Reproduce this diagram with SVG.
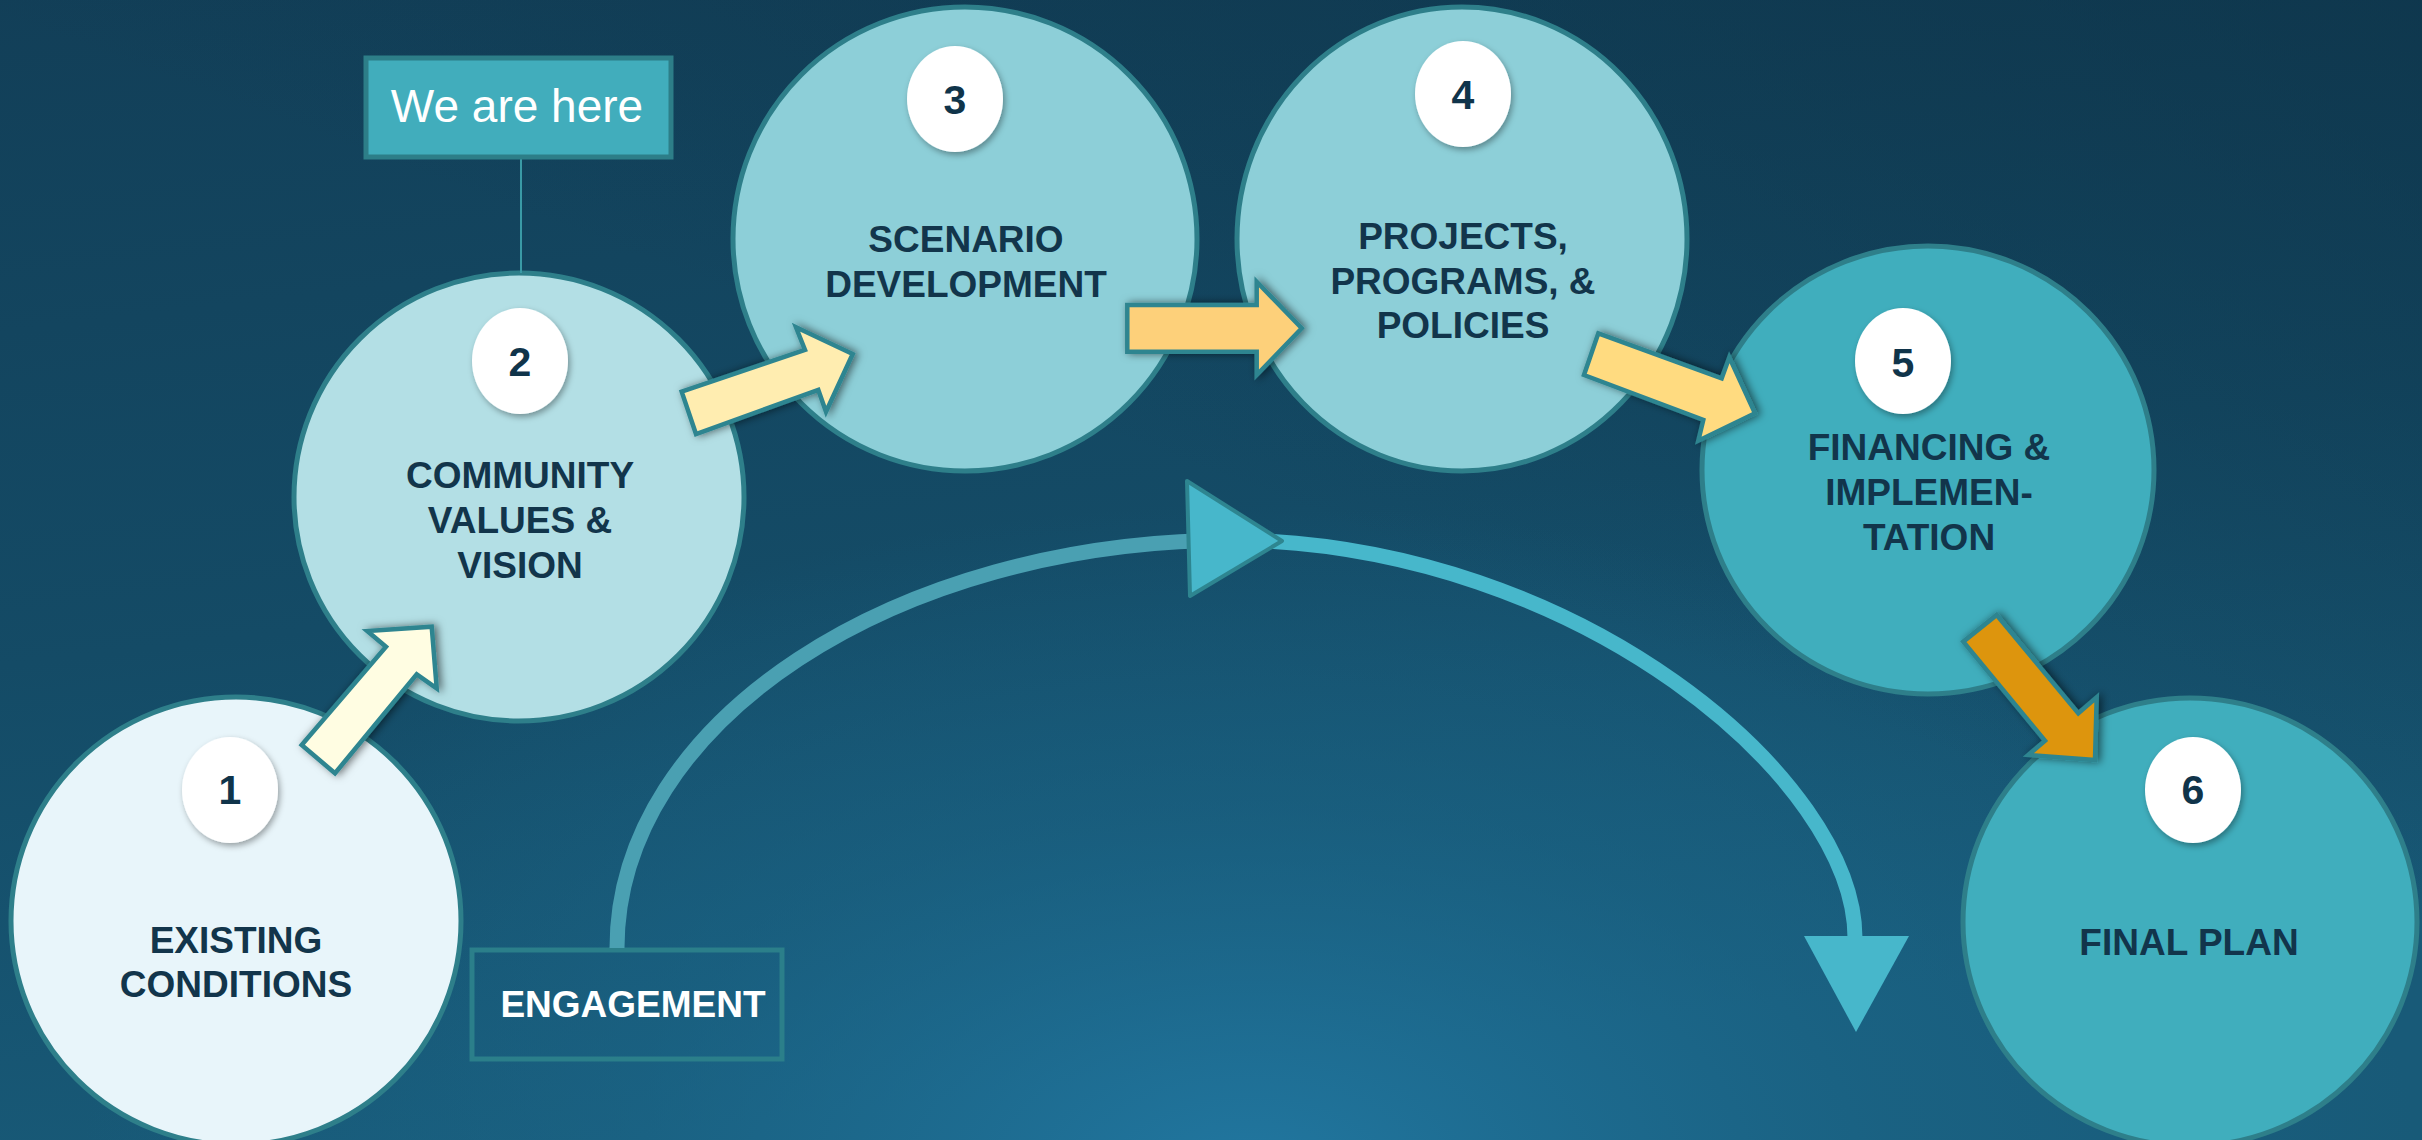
<svg xmlns="http://www.w3.org/2000/svg" width="2422" height="1140" viewBox="0 0 2422 1140">
  <defs>
    <linearGradient id="bg" x1="0" y1="0" x2="0.25" y2="1">
      <stop offset="0" stop-color="#123f58"/>
      <stop offset="0.55" stop-color="#144b66"/>
      <stop offset="1" stop-color="#185a78"/>
    </linearGradient>
    <radialGradient id="glow" cx="1250" cy="1180" r="900" gradientUnits="userSpaceOnUse" gradientTransform="translate(1250 1180) scale(1.3 0.75) translate(-1250 -1180)">
      <stop offset="0" stop-color="#2279a3" stop-opacity="0.95"/>
      <stop offset="0.55" stop-color="#1c6a8e" stop-opacity="0.45"/>
      <stop offset="1" stop-color="#1c6a8e" stop-opacity="0"/>
    </radialGradient>
    <linearGradient id="dark" x1="1" y1="0" x2="0.6" y2="0.5">
      <stop offset="0" stop-color="#0c2f43" stop-opacity="0.6"/>
      <stop offset="1" stop-color="#0c2f43" stop-opacity="0"/>
    </linearGradient>
    <filter id="ashadow" x="-20%" y="-20%" width="140%" height="140%">
      <feDropShadow dx="3" dy="0" stdDeviation="4" flood-color="#000" flood-opacity="0.55"/>
    </filter>
    <filter id="bshadow" x="-30%" y="-30%" width="160%" height="160%">
      <feDropShadow dx="2" dy="3" stdDeviation="3" flood-color="#000" flood-opacity="0.35"/>
    </filter>
    <style>
      .circ { stroke: #2e7f8a; stroke-width: 5; }
      .badge { fill: #ffffff; filter: url(#bshadow); }
      .num { font-family: "Liberation Sans", Arial, sans-serif; font-weight: bold; font-size: 41px; fill: #10344a; text-anchor: middle; }
      .lbl { font-family: "Liberation Sans", Arial, sans-serif; font-weight: bold; font-size: 37px; fill: #12354b; text-anchor: middle; }
      .arr { stroke: #2e8590; stroke-width: 4.5; stroke-linejoin: miter; filter: url(#ashadow); }
    </style>
  </defs>

  <rect x="0" y="0" width="2422" height="1140" fill="url(#bg)"/>
  <rect x="0" y="0" width="2422" height="1140" fill="url(#glow)"/>
  <rect x="0" y="0" width="2422" height="1140" fill="url(#dark)"/>

  <g id="node-1">
    <ellipse class="circ" cx="236" cy="921" rx="225" ry="224" fill="#e8f5fa"/>
    <ellipse class="badge" cx="230" cy="790" rx="48" ry="53"/>
    <text class="num" x="230" y="804">1</text>
    <text class="lbl" x="236" y="953">EXISTING</text>
    <text class="lbl" x="236" y="997">CONDITIONS</text>
  </g>

  <g id="node-2">
    <ellipse class="circ" cx="519" cy="497" rx="225" ry="224" fill="#b3dfe5"/>
    <ellipse class="badge" cx="520" cy="361" rx="48" ry="53"/>
    <text class="num" x="520" y="376">2</text>
    <text class="lbl" x="520" y="488">COMMUNITY</text>
    <text class="lbl" x="520" y="533">VALUES &amp;</text>
    <text class="lbl" x="520" y="578">VISION</text>
  </g>

  <g id="node-3">
    <ellipse class="circ" cx="965" cy="239" rx="232" ry="232" fill="#8dcfd8"/>
    <ellipse class="badge" cx="955" cy="99" rx="48" ry="53"/>
    <text class="num" x="955" y="114">3</text>
    <text class="lbl" x="966" y="252">SCENARIO</text>
    <text class="lbl" x="966" y="297">DEVELOPMENT</text>
  </g>

  <g id="node-4">
    <ellipse class="circ" cx="1462" cy="239" rx="225" ry="232" fill="#8dcfd8"/>
    <ellipse class="badge" cx="1463" cy="94" rx="48" ry="53"/>
    <text class="num" x="1463" y="109">4</text>
    <text class="lbl" x="1463" y="249">PROJECTS,</text>
    <text class="lbl" x="1463" y="294">PROGRAMS, &amp;</text>
    <text class="lbl" x="1463" y="338">POLICIES</text>
  </g>

  <g id="node-5">
    <ellipse class="circ" cx="1928" cy="470" rx="226" ry="224" fill="#40aebd"/>
    <ellipse class="badge" cx="1903" cy="361" rx="48" ry="53"/>
    <text class="num" x="1903" y="377">5</text>
    <text class="lbl" x="1929" y="460">FINANCING &amp;</text>
    <text class="lbl" x="1929" y="505">IMPLEMEN-</text>
    <text class="lbl" x="1929" y="550">TATION</text>
  </g>

  <g id="node-6">
    <ellipse class="circ" cx="2190" cy="922" rx="227" ry="224" fill="#40aebd"/>
    <ellipse class="badge" cx="2193" cy="790" rx="48" ry="53"/>
    <text class="num" x="2193" y="804">6</text>
    <text class="lbl" x="2189" y="955">FINAL PLAN</text>
  </g>

  <g id="we-are-here">
    <line x1="521" y1="158" x2="521" y2="273" stroke="#3a9aa6" stroke-width="2"/>
    <rect x="366" y="58" width="305" height="99" fill="#41adbc" stroke="#2d7e88" stroke-width="5"/>
    <text x="517" y="122" font-family="'Liberation Sans', Arial, sans-serif" font-size="46" fill="#ffffff" text-anchor="middle">We are here</text>
  </g>

  <g id="engagement">
    <rect x="472" y="950" width="310" height="109" fill="none" stroke="#2b7f8a" stroke-width="5"/>
    <text x="633" y="1017" font-family="'Liberation Sans', Arial, sans-serif" font-weight="bold" font-size="37" fill="#ffffff" text-anchor="middle">ENGAGEMENT</text>
  </g>

  <g id="connectors">
    <path d="M 617 948 C 617 722, 894 540, 1236 540" fill="none" stroke="#4aa0b2" stroke-width="15"/>
    <path d="M 1236 540 C 1580 545, 1855 780, 1855 938" fill="none" stroke="#47b7cb" stroke-width="15"/>
    <polygon points="1187,481 1282,541 1190,596" fill="#47b7cb" stroke="#2e8590" stroke-width="4" stroke-linejoin="round"/>
    <polygon points="1804,936 1909,936 1856,1032" fill="#47b7cb"/>

    <polygon class="arr" fill="#fffde2" points="301.7,745 386,646.7 367.3,631 431.7,626.7 436.7,688.3 416.7,674.3 335,773.3"/>
    <polygon class="arr" fill="#ffedb0" points="681.7,391.7 805,350 796,327.3 852.7,354 826,411.7 818.3,390 696,434"/>
    <polygon class="arr" fill="#fdd07a" points="1127.3,305 1256.7,305 1256.7,281.7 1301.7,328.3 1256.7,375 1256.7,351.7 1127.3,351.7"/>
    <polygon class="arr" fill="#ffdb80" points="1598.3,333.3 1721.7,378.3 1729.3,357.3 1755,413.3 1698.3,440.7 1703.3,420 1584,375"/>
    <polygon class="arr" fill="#dd950a" points="1996.7,615 2078.3,713.3 2096.7,697.3 2095,760 2028.3,755 2045,740.7 1963.3,641.7"/>
  </g>
</svg>
